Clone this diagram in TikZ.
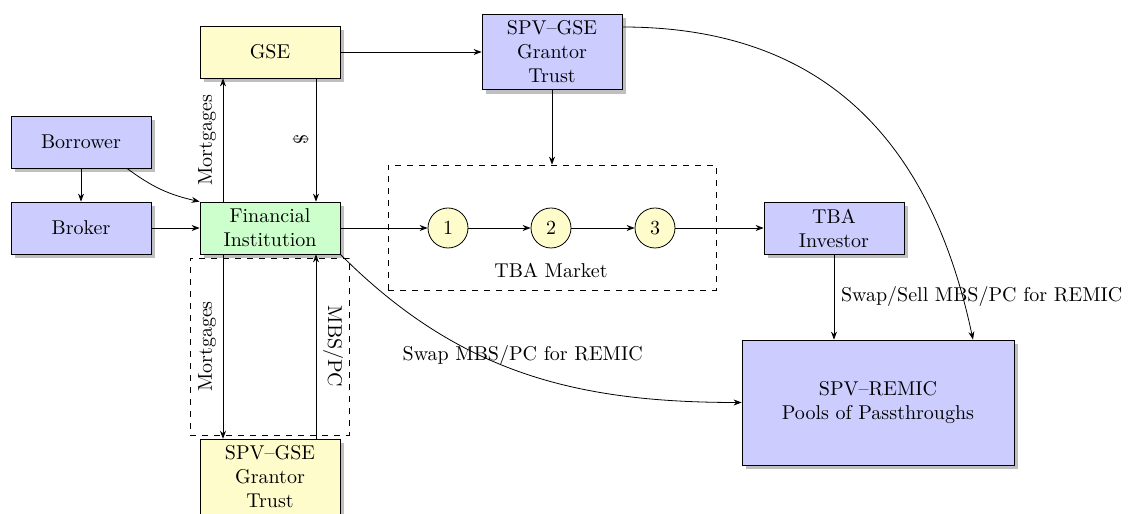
\documentclass[tikz,border=0pt]{standalone}
\usetikzlibrary{arrows.meta,shadows,calc}
\begin{document}
\begin{tikzpicture}[x=0.5pt,y=0.5pt,
  >={Stealth[length=4pt,width=3pt]},
  box/.style={draw, minimum width=70pt, minimum height=26pt, align=center,
    drop shadow={fill=black!25, opacity=1}},
  bluebox/.style={box, fill=blue!20},
  yellowbox/.style={box, fill=yellow!20},
  greenbox/.style={box, fill=green!20},
  stage/.style={circle, draw, fill=yellow!20, minimum size=20pt, inner sep=0pt},
  group/.style={draw, dashed, inner sep=0pt},
  flow/.style={->},
]
\useasboundingbox (0,0) rectangle (1137,514);

% dashed groupings
\node[group, minimum width=164pt, minimum height=62.5pt] (tba) at (552,286.5) {};
\node (tbalabel) at (551,244) {TBA Market};
\node[group, minimum width=79.5pt, minimum height=88.5pt] (swapbox) at (269.5,167.5) {};

% parties
\node[bluebox] (borrower) at (81,372) {Borrower};
\node[bluebox] (broker) at (81,286) {Broker};
\node[yellowbox] (gse) at (270,462) {GSE};
\node[greenbox] (fi) at (270,286) {Financial\\Institution};
\node[bluebox] (spv1) at (552,462) {SPV--GSE\\Grantor\\Trust};
\node[bluebox] (tbainv) at (834,286) {TBA\\Investor};
\node[bluebox, minimum width=136pt, minimum height=62.5pt] (remic) at (878,111.5) {SPV--REMIC\\Pools of Passthroughs};
\node[yellowbox] (spv2) at (270,37) {SPV--GSE\\Grantor\\Trust};

% TBA market stages
\node[stage] (c1) at (448,286) {1};
\node[stage] (c2) at (551,286) {2};
\node[stage] (c3) at (655,286) {3};

% origination
\draw[flow] (borrower) -- (broker);
\draw[flow] ([xshift=23pt]borrower.south) to[bend right=12] (fi.north west);
\draw[flow] (broker) -- (fi);

% agency exchange
\draw[flow] ([xshift=-23.5pt]fi.north) -- node[midway, rotate=90, anchor=south] {Mortgages} ([xshift=-23.5pt]gse.south);
\draw[flow] ([xshift=23pt]gse.south) -- node[midway, rotate=-90, anchor=north] {\$} ([xshift=23pt]fi.north);
\draw[flow] (gse) -- (spv1);
\draw[flow] (spv1) -- (tba.north);
\draw[flow] ([yshift=12.5pt]spv1.east) to[out=0, in=102, looseness=1.1] ([xshift=47.5pt]remic.north);

% TBA trading
\draw[flow] (fi) -- (c1);
\draw[flow] (c1) -- (c2);
\draw[flow] (c2) -- (c3);
\draw[flow] (c3) -- (tbainv);
\draw[flow] (tbainv.south) -- node[midway, right] {Swap/Sell MBS/PC for REMIC} (tbainv.south |- remic.north);

% swaps
\draw[flow] ([xshift=-23.5pt]fi.south) -- node[midway, rotate=90, anchor=south] {Mortgages} ([xshift=-23.5pt]spv2.north);
\draw[flow] ([xshift=23pt]spv2.north) -- node[midway, rotate=-90, anchor=south] {MBS/PC} ([xshift=23pt]fi.south);
\draw[flow] (fi.south east) to[out=-45, in=180] node[midway, above] {Swap MBS/PC for REMIC} (remic.west);
\end{tikzpicture}
\end{document}
